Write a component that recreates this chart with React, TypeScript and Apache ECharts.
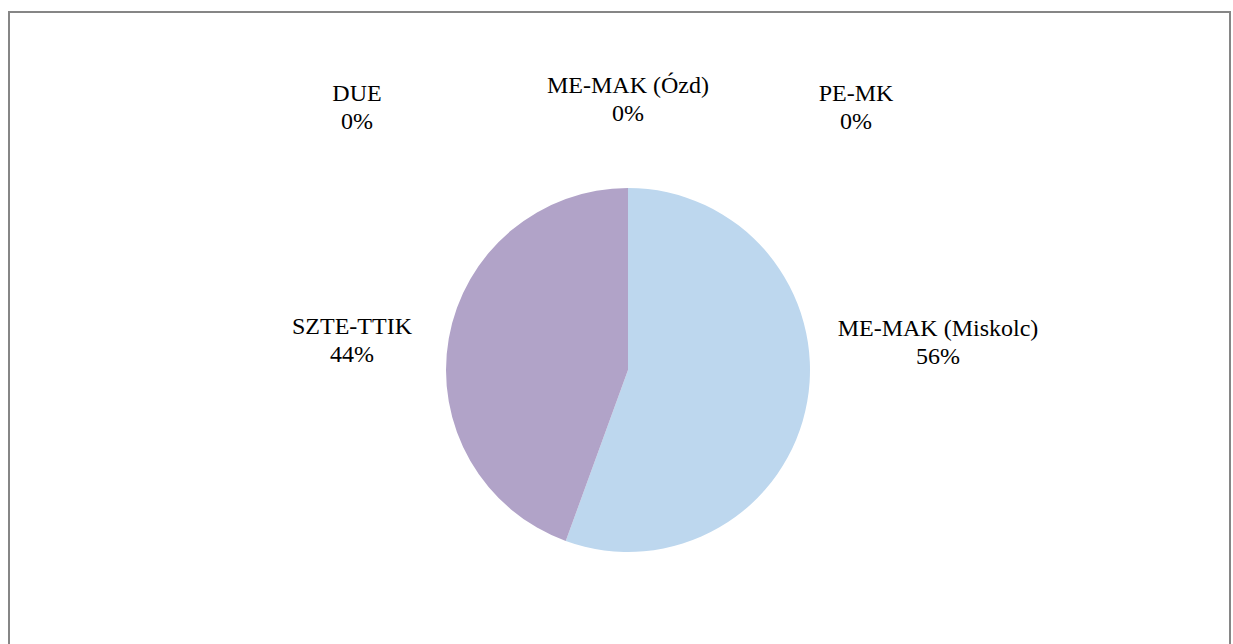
import React, { useEffect, useRef } from "react";
import * as echarts from "echarts";

const categories = ["ME-MAK (Miskolc)", "SZTE-TTIK", "DUE", "ME-MAK (Ózd)", "PE-MK"];
const values = [5, 4, 0, 0, 0];
const colors = ["#BDD7EE", "#B1A3C8", "#9BBB59", "#8064A2", "#4BACC6"];

// label centre positions (layout only)
const labelPos: [number, number][] = [
  [938, 342],
  [352, 340],
  [357, 107],
  [628, 99],
  [856, 107],
];

export default function App() {
  const ref = useRef<HTMLDivElement>(null);
  useEffect(() => {
    document.body.style.margin = "0";
    const chart = echarts.init(ref.current!, null, { renderer: "svg" });
    chart.setOption({
      animation: false,
      backgroundColor: "#ffffff",
      graphic: [
        {
          type: "rect",
          shape: { x: 9, y: 12, width: 1221, height: 700 },
          style: { fill: "none", stroke: "#868686", lineWidth: 2 },
          silent: true,
        },
      ],
      series: [
        {
          type: "pie",
          center: [628, 370],
          radius: 182,
          startAngle: 90,
          clockwise: true,
          avoidLabelOverlap: false,
          data: categories.map((c, i) => ({
            name: c,
            value: values[i],
            itemStyle: { color: colors[i] },
          })),
          label: {
            show: true,
            formatter: (p: any) => `${p.name}\n${Math.round(p.percent)}%`,
            fontFamily: "'Liberation Serif', 'Times New Roman', serif",
            fontSize: 24,
            lineHeight: 28,
            color: "#000000",
            align: "center",
          },
          labelLine: { show: false },
          labelLayout: (params: any) => {
            const pos = labelPos[params.dataIndex];
            return {
              x: pos[0],
              y: pos[1],
              align: "center",
              verticalAlign: "middle",
              hideOverlap: false,
            };
          },
          emphasis: { disabled: true },
        },
      ],
    });
    return () => chart.dispose();
  }, []);
  return (
    <div
      ref={ref}
      style={{ position: "absolute", left: 0, top: 0, width: 1233, height: 644 }}
    />
  );
}
